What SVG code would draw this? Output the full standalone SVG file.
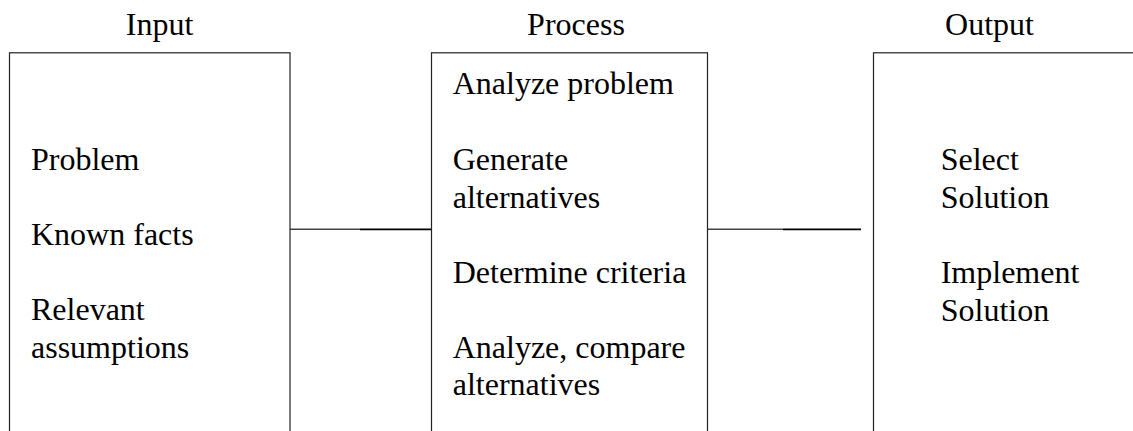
<svg xmlns="http://www.w3.org/2000/svg" width="1133" height="431" viewBox="0 0 1133 431">
<style>
.box{fill:#fff;stroke:#222;stroke-width:1.2}
.t{font-family:"Liberation Serif","Times New Roman",serif;font-size:32px;fill:#000}
.c1{stroke:#444;stroke-width:1.5}
.c2{stroke:#000;stroke-width:1.8}
</style>
<rect width="1133" height="431" fill="#fff"/>
<text class="t" x="159.5" y="35" text-anchor="middle">Input</text>
<text class="t" x="576" y="35" text-anchor="middle">Process</text>
<text class="t" x="989.5" y="35" text-anchor="middle">Output</text>
<g id="connectors">
<line class="c1" x1="290" y1="229.3" x2="360" y2="229.3"/>
<line class="c2" x1="360" y1="229.3" x2="431" y2="229.3"/>
<line class="c1" x1="707.5" y1="229.3" x2="783" y2="229.3"/>
<line class="c2" x1="783" y1="229.3" x2="861" y2="229.3"/>
</g>
<g id="input">
<rect class="box" x="9.5" y="52.8" width="280.5" height="400"/>
<text class="t" x="31" y="170">Problem</text>
<text class="t" x="31" y="245">Known facts</text>
<text class="t" x="31" y="320">Relevant</text>
<text class="t" x="31" y="358">assumptions</text>
</g>
<g id="process">
<rect class="box" x="431.5" y="52.8" width="276" height="400"/>
<text class="t" x="452.7" y="94">Analyze problem</text>
<text class="t" x="452.7" y="170">Generate</text>
<text class="t" x="452.7" y="207.5">alternatives</text>
<text class="t" x="452.7" y="282.7">Determine criteria</text>
<text class="t" x="452.7" y="358.3">Analyze, compare</text>
<text class="t" x="452.7" y="395">alternatives</text>
</g>
<g id="output">
<rect class="box" x="873.5" y="52.8" width="300" height="400"/>
<text class="t" x="940.7" y="170">Select</text>
<text class="t" x="940.7" y="208.3">Solution</text>
<text class="t" x="940.7" y="282.7">Implement</text>
<text class="t" x="940.7" y="320.7">Solution</text>
</g>
</svg>
